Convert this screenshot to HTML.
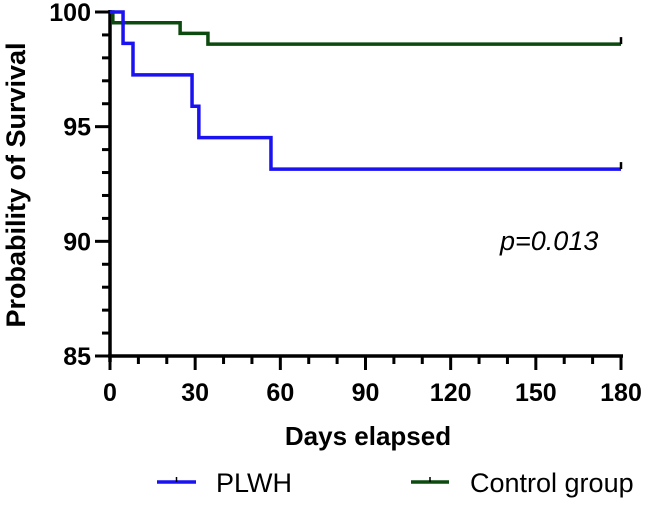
<!DOCTYPE html>
<html><head><meta charset="utf-8"><style>
body{margin:0;background:#fff}
svg text{font-family:"Liberation Sans",Arial,sans-serif}
</style></head><body>
<svg width="645" height="500" viewBox="0 0 645 500">
<g id="axes"></g>
<g id="series"></g>
<text x="16" y="185" transform="rotate(-90 16 185)" text-anchor="middle" dominant-baseline="central" font-size="27" font-weight="bold">Probability of Survival</text>
<text x="368" y="445" text-anchor="middle" font-size="26" font-weight="bold">Days elapsed</text>
<text x="500" y="250" font-size="27" font-style="italic">p=0.013</text>
<g>
<line x1="157" y1="482" x2="196" y2="482" stroke="#1a12f0" stroke-width="3.5"/>
<line x1="176.5" y1="477" x2="176.5" y2="482" stroke="#000" stroke-width="1.5"/>
<text x="216" y="492" font-size="27">PLWH</text></g>
<g>
<line x1="411" y1="482" x2="449" y2="482" stroke="#0d4a10" stroke-width="3.5"/>
<line x1="430" y1="477" x2="430" y2="482" stroke="#000" stroke-width="1.5"/>
<text x="470" y="492" font-size="27">Control group</text></g>
</svg>
<script>
const xTicks=[0,30,60,90,120,150,180];
const yTicks=[85,90,95,100];
const plwhDays=[0,4.6,8.1,28.9,31.3,56.7,180];
const plwhSurv=[100,98.63,97.26,95.89,94.52,93.15,93.15];
const ctrlDays=[0,1,24.7,34.5,180];
const ctrlSurv=[100,99.53,99.07,98.6,98.6];
const X=d=>110+d*(511/180), Y=v=>12+(100-v)*(344/15);
const NS="http://www.w3.org/2000/svg";
function mk(t,a,p){const e=document.createElementNS(NS,t);for(const k in a)e.setAttribute(k,a[k]);p.appendChild(e);return e;}
const ax=document.getElementById('axes');
let yl=mk('line',{x1:110,y1:10,x2:110,y2:362,stroke:'#000','stroke-width':3.5},ax);


let xl=mk('line',{x1:108,y1:356,x2:623,y2:356,stroke:'#000','stroke-width':3.5},ax);


for(let v=85;v<=100;v++){const maj=v%5===0;mk('line',{x1:maj?95:102,y1:Y(v),x2:110,y2:Y(v),stroke:'#000','stroke-width':3},ax);}
for(let d=0;d<=180;d+=10){const maj=d%30===0;mk('line',{x1:X(d),y1:356,x2:X(d),y2:maj?370:364,stroke:'#000','stroke-width':3},ax);}
yTicks.forEach(v=>{const t=mk('text',{x:91,y:Y(v)+9,'text-anchor':'end','font-size':25,'font-weight':'bold'},ax);t.textContent=v;

});
xTicks.forEach(d=>{const t=mk('text',{x:X(d),y:401,'text-anchor':'middle','font-size':25,'font-weight':'bold'},ax);t.textContent=d;

});
const sg=document.getElementById('series');
function step(days,surv,col,name){let p='M'+X(days[0])+','+Y(surv[0]);
for(let i=1;i<days.length;i++){p+=' H'+X(days[i])+' V'+Y(surv[i]);}
const e=mk('path',{d:p,fill:'none',stroke:col,'stroke-width':3.5},sg);


const last=days.length-1;const c=mk('line',{x1:X(days[last]),y1:Y(surv[last])-7,x2:X(days[last]),y2:Y(surv[last]),stroke:'#000','stroke-width':2.5},sg);

}
step(ctrlDays,ctrlSurv,'#0d4a10','control-curve');
step(plwhDays,plwhSurv,'#1a12f0','plwh-curve');
</script>
</body></html>
